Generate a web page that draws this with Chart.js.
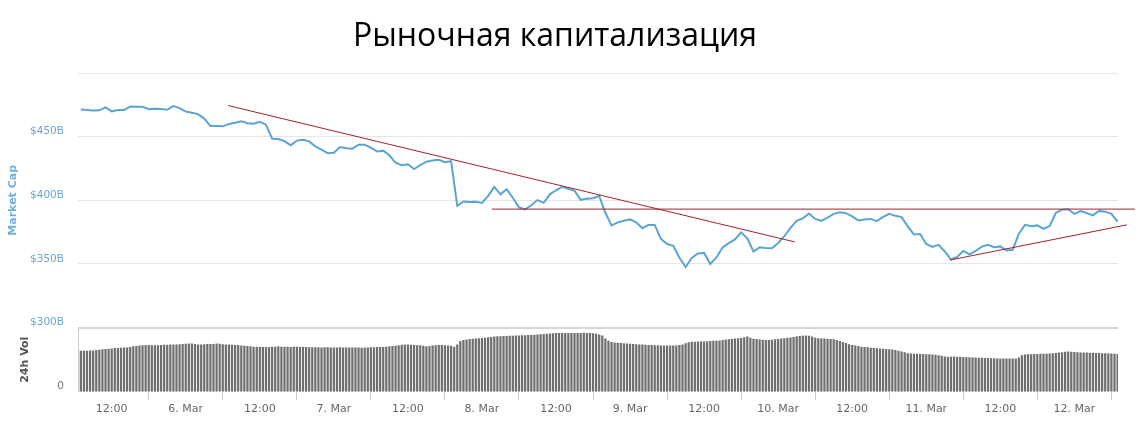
<!DOCTYPE html>
<html><head><meta charset="utf-8">
<script src="https://cdn.jsdelivr.net/npm/chart.js@4.4.1/dist/chart.umd.min.js"></script>
<style>
html,body{margin:0;padding:0;background:#fff;}
#wrap{position:relative;width:1147px;height:423px;}
#title{position:absolute;left:0;top:12px;width:1110px;text-align:center;font-family:'Open Sans',sans-serif;font-size:32px;line-height:44px;color:#000;}
canvas{position:absolute;left:0;top:0;}
</style></head><body>
<div id="wrap"><canvas id="c" width="1147" height="423"></canvas><div id="title">Рыночная капитализация</div></div>
<script>
// x values are hours since 5 Mar 00:00; first sample at 5 Mar 07:00
const startHour = 7;
// hourly market cap, $B
const marketCap = [
471.3,470.9,470.6,470.7,473.0,469.9,471.0,470.9,473.6,473.4,473.4,471.5,
472.0,471.8,471.1,474.0,472.4,469.7,468.7,467.7,464.2,458.3,458.3,458.1,
460.0,461.0,462.0,460.6,460.2,461.6,459.4,448.4,448.2,446.5,443.3,446.9,
447.6,446.3,442.4,439.8,437.0,437.4,441.9,440.9,440.6,443.7,443.7,441.3,
438.4,439.0,435.4,429.5,427.6,428.3,424.6,427.6,430.3,431.3,431.9,429.9,
430.7,395.7,399.1,398.6,398.8,398.0,403.5,410.6,404.7,408.7,402.0,394.5,
392.9,396.1,400.2,398.0,404.7,407.9,410.6,409.1,407.5,400.4,401.2,401.6,
403.5,390.2,380.3,382.7,383.9,385.0,382.8,378.1,380.7,380.7,369.7,365.7,
364.2,354.9,347.6,354.7,358.3,358.7,350.0,355.1,363.0,366.4,369.3,374.8,
370.2,359.8,363.1,362.6,362.4,366.5,371.8,378.3,383.9,385.8,389.6,385.4,
383.9,386.5,389.4,390.7,389.9,387.4,384.1,385.0,385.4,383.7,387.0,389.4,
387.8,386.8,379.5,373.2,373.6,365.7,363.4,365.0,359.8,353.5,355.5,360.2,
357.6,360.2,363.6,365.0,363.2,363.8,360.6,361.2,373.6,380.7,379.7,380.3,
377.6,379.9,390.2,392.7,393.0,389.4,391.6,390.0,388.2,391.7,391.1,389.4,
383.3
];
// 30-minute 24h volume, $B
const volume = [
16.0,16.0,16.0,16.1,16.1,16.3,16.4,16.6,16.7,16.8,16.9,17.1,17.1,17.2,17.3,17.3,17.5,17.7,17.8,18.0,18.1,18.2,18.2,18.1,
18.1,18.1,18.2,18.3,18.3,18.4,18.4,18.4,18.5,18.6,18.7,18.8,18.8,18.6,18.4,18.4,18.5,18.6,18.6,18.6,18.8,18.7,18.5,18.4,
18.4,18.3,18.2,18.2,18.0,17.9,17.8,17.7,17.6,17.6,17.5,17.5,17.5,17.5,17.6,17.6,17.7,17.6,17.6,17.6,17.5,17.6,17.6,17.5,
17.5,17.5,17.4,17.4,17.4,17.4,17.3,17.4,17.4,17.3,17.3,17.3,17.4,17.3,17.3,17.3,17.3,17.3,17.3,17.2,17.3,17.3,17.4,17.4,
17.5,17.5,17.5,17.6,17.7,17.8,17.9,18.1,18.3,18.4,18.4,18.3,18.2,18.1,18.1,17.9,17.7,17.8,18.0,18.1,18.2,18.2,18.1,18.0,
17.9,17.6,18.4,19.8,20.2,20.4,20.6,20.7,20.8,20.9,21.0,21.1,21.3,21.4,21.5,21.6,21.6,21.7,21.7,21.8,21.8,21.9,21.9,22.0,
22.0,22.1,22.1,22.2,22.3,22.4,22.5,22.6,22.7,22.8,22.9,22.9,22.9,22.9,22.9,22.9,22.9,22.9,22.9,23.0,22.9,22.9,22.8,22.6,
22.3,21.9,20.8,19.9,19.4,19.2,19.1,19.0,18.9,18.8,18.75,18.6,18.5,18.4,18.4,18.3,18.2,18.2,18.1,18.1,18.0,18.0,18.0,18.0,
18.0,18.0,18.2,18.4,18.9,19.3,19.5,19.5,19.6,19.6,19.6,19.7,19.8,19.9,19.9,20.0,20.2,20.4,20.5,20.6,20.8,20.9,21.0,21.3,
21.5,21.1,20.7,20.6,20.4,20.3,20.2,20.2,20.3,20.5,20.6,20.8,20.9,21.1,21.2,21.4,21.6,21.7,21.8,21.9,21.8,21.5,21.1,20.9,
20.8,20.8,20.7,20.6,20.5,20.2,19.8,19.4,19.0,18.5,18.2,18.0,17.8,17.6,17.5,17.4,17.2,17.1,17.0,16.9,16.8,16.7,16.6,16.5,
16.3,16.0,15.7,15.4,15.0,14.9,14.8,14.8,14.7,14.7,14.6,14.6,14.5,14.4,14.2,14.0,13.8,13.7,13.7,13.8,13.7,13.7,13.6,13.5,
13.5,13.4,13.4,13.3,13.3,13.2,13.2,13.1,13.1,13.0,13.0,13.0,13.0,13.0,13.0,13.0,13.4,14.2,14.5,14.6,14.6,14.7,14.7,14.8,
14.8,14.8,14.9,15.0,15.1,15.3,15.4,15.6,15.7,15.6,15.5,15.4,15.35,15.3,15.3,15.2,15.2,15.1,15.1,15.0,15.0,14.9,14.9,14.8,
14.7
];
const tickHours = [12,24,36,48,60,72,84,96,108,120,132,144,156,168];
const tickLabels = ['12:00','6. Mar','12:00','7. Mar','12:00','8. Mar','12:00','9. Mar','12:00','10. Mar','12:00','11. Mar','12:00','12. Mar'];
const capTicks = [300,350,400,450,500];
// hand-drawn trend lines: [hour, $B]
const trendDown = [[30.9,474.4],[122.7,367.3]];
const trendFlat = [[73.6,393.1],[177.8,393.1]];
const trendUp = [[147.85,353.1],[176.5,380.7]];

const toPts = arr => arr.map(p => ({x:p[0], y:p[1]}));
const trendStyle = {type:'line', yAxisID:'y', borderColor:'#a3212c', borderWidth:1, pointRadius:0, clip:false, order:0};
const AXIS_W = 78;

new Chart(document.getElementById('c'), {
  type:'line',
  data:{datasets:[
    Object.assign({label:'trend1', data:toPts(trendDown)}, trendStyle),
    Object.assign({label:'trend2', data:toPts(trendFlat)}, trendStyle),
    Object.assign({label:'trend3', data:toPts(trendUp)}, trendStyle),
    {type:'line', label:'Market Cap', data:marketCap.map((v,i)=>({x:startHour+i, y:v})), yAxisID:'y',
     borderColor:'#5aa5d1', borderWidth:2, pointRadius:0, tension:0, order:1},
    {type:'bar', label:'24h Vol', data:volume.map((v,i)=>({x:startHour+i*0.5, y:v})), yAxisID:'yv',
     backgroundColor:'#6e6e6e', barPercentage:0.9, categoryPercentage:0.8, order:2}
  ]},
  options:{
    responsive:false, animation:false,
    layout:{padding:{left:0,right:29,top:73,bottom:4}},
    plugins:{legend:{display:false}, tooltip:{enabled:false}, title:{display:false}},
    scales:{
      x:{type:'linear', min:6.54, max:175.07, offset:false,
         grid:{drawOnChartArea:false, drawTicks:true, tickLength:8, color:'#cccccc'},
         border:{display:false},
         afterBuildTicks:s=>{ s.ticks = tickHours.map(v=>({value:v})); },
         afterFit:s=>{ s.paddingLeft = 0; s.paddingRight = 0; },
         ticks:{autoSkip:false, maxRotation:0, color:'#666666', padding:3,
                font:{family:'DejaVu Sans', size:11},
                callback:(v,i)=>tickLabels[i]}},
      yv:{type:'linear', position:'left', stack:'panes', stackWeight:64, min:0, max:25,
          afterBuildTicks:s=>{ s.ticks = [{value:0}]; },
          afterFit:s=>{ s.width = AXIS_W; },
          grid:{display:false, drawTicks:false},
          border:{display:true, color:'#cccccc'},
          ticks:{color:'#777777', padding:14, labelOffset:-6, font:{family:'DejaVu Sans', size:10.5}, callback:v=>String(v)},
          title:{display:true, text:'24h Vol', color:'#555555', font:{family:'DejaVu Sans', size:11, weight:'bold'}, padding:{top:19,bottom:0}}},
      y:{type:'linear', position:'left', stack:'panes', stackWeight:254, min:300, max:500,
         afterBuildTicks:s=>{ s.ticks = capTicks.map(v=>({value:v})); },
         afterFit:s=>{ s.width = AXIS_W; },
         grid:{color:c=>c.tick && c.tick.value===300 ? '#d6d6d6' : '#e6e6e6', lineWidth:c=>c.tick && c.tick.value===300 ? 2 : 1, drawTicks:false},
         border:{display:false},
         ticks:{color:'#6aa6cc', padding:14, labelOffset:-5, font:{family:'DejaVu Sans', size:10.5},
                callback:v=> v===500 ? '' : '$'+v+'B'},
         title:{display:true, text:'Market Cap', color:'#6fb1dd', font:{family:'DejaVu Sans', size:11, weight:'bold'}, padding:{top:7,bottom:0}}}
    }
  }
});
</script>
</body></html>
